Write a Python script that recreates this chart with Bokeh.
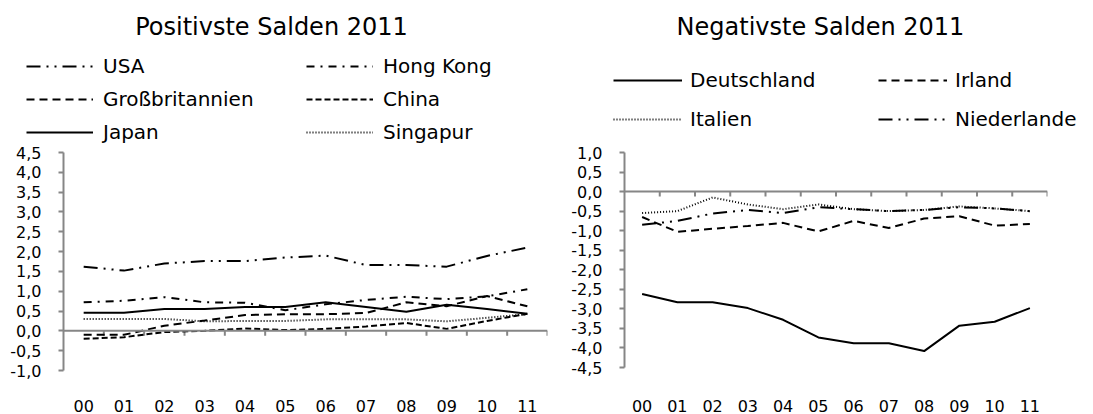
from bokeh.plotting import figure
from bokeh.models import (Range1d, FixedTicker, CustomJSTickFormatter, Span, Legend,
                          LegendItem, Label)
from bokeh.layouts import row, column
from bokeh.embed import file_html
from bokeh.resources import INLINE

# ---------------- data ----------------
years = ["00", "01", "02", "03", "04", "05", "06", "07", "08", "09", "10", "11"]

usa = [1.62, 1.52, 1.70, 1.76, 1.76, 1.85, 1.90, 1.66, 1.66, 1.62, 1.89, 2.10]
hong_kong = [0.72, 0.76, 0.85, 0.72, 0.71, 0.52, 0.67, 0.78, 0.86, 0.80, 0.87, 1.05]
grossbritannien = [-0.10, -0.10, 0.13, 0.26, 0.40, 0.42, 0.42, 0.45, 0.72, 0.62, 0.88, 0.62]
china = [-0.20, -0.16, -0.03, 0.00, 0.06, 0.02, 0.05, 0.11, 0.20, 0.05, 0.25, 0.43]
japan = [0.46, 0.46, 0.55, 0.55, 0.60, 0.60, 0.72, 0.60, 0.48, 0.66, 0.55, 0.43]
singapur = [0.30, 0.30, 0.30, 0.24, 0.25, 0.25, 0.29, 0.29, 0.29, 0.24, 0.33, 0.42]

deutschland = [-2.62, -2.83, -2.83, -2.98, -3.28, -3.73, -3.88, -3.88, -4.08, -3.43, -3.33, -2.98]
irland = [-0.65, -1.03, -0.95, -0.88, -0.80, -1.02, -0.75, -0.93, -0.69, -0.63, -0.87, -0.83]
italien = [-0.55, -0.50, -0.15, -0.33, -0.45, -0.33, -0.45, -0.50, -0.47, -0.38, -0.43, -0.50]
niederlande = [-0.85, -0.75, -0.56, -0.47, -0.55, -0.40, -0.45, -0.50, -0.47, -0.40, -0.43, -0.50]

left_series = [("USA", usa, "14 6 2 6 2 6"), ("Hong Kong", hong_kong, "8 6 2 6"),
               ("Großbritannien", grossbritannien, "8 5"), ("China", china, "6 3"),
               ("Japan", japan, "solid"), ("Singapur", singapur, "1 2")]
right_series = [("Deutschland", deutschland, "solid"), ("Irland", irland, "8 5"),
                ("Italien", italien, "1 2"), ("Niederlande", niederlande, "14 6 2 6 2 6")]

left_title = "Positivste Salden 2011"
right_title = "Negativste Salden 2011"
left_yticks = [-1.0, -0.5, 0.0, 0.5, 1.0, 1.5, 2.0, 2.5, 3.0, 3.5, 4.0, 4.5]
right_yticks = [-4.5, -4.0, -3.5, -3.0, -2.5, -2.0, -1.5, -1.0, -0.5, 0.0, 0.5, 1.0]

# ---------------- styling ----------------
FONT = "DejaVu Sans"
AXIS_GREY = "#868686"
TXT = "#000000"
HEAD_H = 144
x = list(range(len(years)))
between = [i + 0.5 for i in x]


def make_header(width, title, title_x, series, leg_loc, label_width, standoff, spacing, glyph_w):
    h = figure(width=width, height=HEAD_H, output_backend="svg", toolbar_location=None,
               x_range=Range1d(0, width), y_range=Range1d(0, HEAD_H),
               x_axis_type=None, y_axis_type=None,
               min_border=0, min_border_left=0, min_border_right=0,
               min_border_top=0, min_border_bottom=0)
    h.frame_align = False
    h.outline_line_color = None
    h.xgrid.visible = False
    h.ygrid.visible = False
    h.background_fill_color = "white"
    h.border_fill_color = "white"
    h.add_layout(Label(x=title_x, y=HEAD_H - 26, text=title, text_align="center",
                       text_baseline="middle", text_font=FONT, text_font_size="24px",
                       text_color=TXT))
    items = []
    for name, ys, dash in series:
        r = h.line(x, ys, line_color="black", line_width=2, line_dash=dash, visible=False)
        items.append(LegendItem(label=name, renderers=[r]))
    leg = Legend(items=items, orientation="horizontal", ncols=2, location=leg_loc,
                 glyph_width=glyph_w, glyph_height=16, label_height=16,
                 label_width=label_width, label_standoff=standoff, spacing=spacing,
                 padding=0, margin=0, border_line_color=None, background_fill_alpha=0,
                 inactive_fill_alpha=0,
                 label_text_font=FONT, label_text_font_size="20px", label_text_color=TXT)
    h.add_layout(leg)
    return h


def make_fig(width, yr, yticks, b_left, b_right, b_bottom, tick_len, x_standoff):
    p = figure(width=width, height=414 - HEAD_H, output_backend="svg", toolbar_location=None,
               x_range=Range1d(-0.5, len(years) - 0.5), y_range=Range1d(*yr),
               min_border_left=b_left, min_border_right=b_right,
               min_border_top=8, min_border_bottom=b_bottom)
    p.frame_align = False
    p.outline_line_color = None
    p.xgrid.visible = False
    p.ygrid.visible = False
    p.background_fill_color = "white"
    p.border_fill_color = "white"

    xa = p.xaxis[0]
    xa.ticker = FixedTicker(ticks=x)
    xa.formatter = CustomJSTickFormatter(args=dict(labels=years), code="""
        const i = Math.round(tick);
        return (i >= 0 && i < labels.length) ? labels[i] : "";
    """)
    xa.axis_line_color = None
    xa.major_tick_line_color = None
    xa.minor_tick_line_color = None
    xa.major_label_standoff = x_standoff
    xa.major_label_text_font = FONT
    xa.major_label_text_font_size = "16px"
    xa.major_label_text_color = TXT

    ya = p.yaxis[0]
    ya.ticker = FixedTicker(ticks=yticks)
    ya.formatter = CustomJSTickFormatter(code="return tick.toFixed(1).replace('.', ',');")
    ya.axis_line_color = AXIS_GREY
    ya.axis_line_width = 2
    ya.major_tick_line_color = AXIS_GREY
    ya.major_tick_line_width = 2
    ya.major_tick_in = 0
    ya.major_tick_out = 5
    ya.minor_tick_line_color = None
    ya.major_label_standoff = 17
    ya.major_label_text_font = FONT
    ya.major_label_text_font_size = "16px"
    ya.major_label_text_color = TXT

    # horizontal category axis crossing at zero, with ticks between categories
    p.add_layout(Span(location=0, dimension="width", line_color=AXIS_GREY, line_width=2))
    p.segment(x0=between, y0=[0] * len(between), x1=between, y1=[-tick_len] * len(between),
              line_color=AXIS_GREY, line_width=2)
    return p


def add_lines(p, series):
    for name, ys, dash in series:
        p.line(x, ys, line_color="black", line_width=2, line_dash=dash)


# ---------------- left chart ----------------
h1 = make_header(568, left_title, 271, left_series, (26, 0), 194, 10, 9, 67)
p1 = make_fig(568, (-1.0, 4.5), left_yticks, 63, 21, 42, 0.125, 23)
add_lines(p1, left_series)

# ---------------- right chart ----------------
h2 = make_header(525, right_title, 252, right_series, (45, 13), 173, 8, 15, 69)
p2 = make_fig(525, (-4.5, 1.0), right_yticks, 55, 46, 45, 0.127, 26)
add_lines(p2, right_series)

layout = row(column(h1, p1), column(h2, p2))
open("out.html", "w").write(file_html(layout, INLINE))
